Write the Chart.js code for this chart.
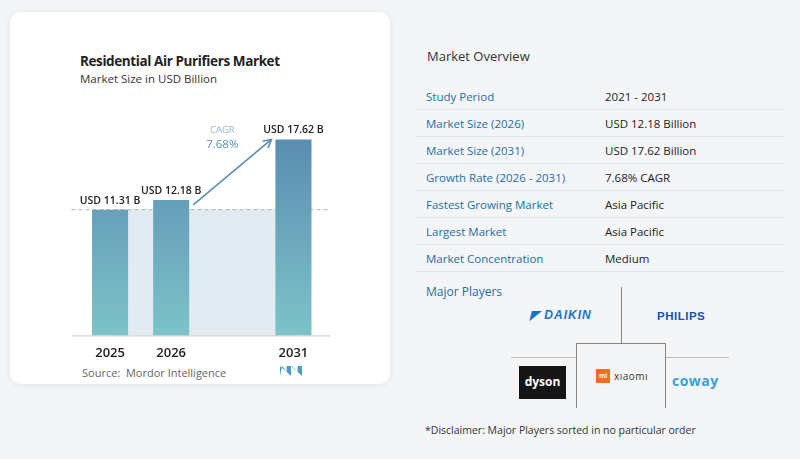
<!DOCTYPE html>
<html><head><meta charset="utf-8">
<script src="https://cdn.jsdelivr.net/npm/chart.js@4"></script>
<style>
body{margin:0;width:800px;height:459px;background:#f4f5f7;font-family:"Open Sans",sans-serif;position:relative;overflow:hidden}
.card{position:absolute;left:10px;top:12px;width:380px;height:372px;background:#fff;border-radius:10px;box-shadow:0 1px 6px rgba(0,0,0,.08)}
.t{position:absolute;left:80px;top:52px;font-size:13.5px;font-weight:700;color:#222;letter-spacing:-.4px}
.s{position:absolute;left:80px;top:71px;font-size:11.5px;color:#333}
.src{position:absolute;left:82px;top:365px;font-size:11px;color:#666}
#wrap{position:absolute;left:60px;top:113px;width:279px;height:250px}
.ov{position:absolute;left:427px;top:47px;font-size:13px;color:#333}
table{position:absolute;left:415px;top:83px;width:370px;border-collapse:collapse;font-size:11.5px}
td{height:26px;border-bottom:1px solid #e3e6ea;padding:0 0 0 11px}
td.k{color:#1e6ea6;width:168px}
td.v{color:#222}
.mp{position:absolute;left:426px;top:283px;font-size:12px;color:#1e6ea6}
.ln{position:absolute;background:#888}
.disc{position:absolute;left:425px;top:423px;font-size:10.5px;color:#333}
</style></head><body>
<div class="card"></div>
<div class="t">Residential Air Purifiers Market</div>
<div class="s">Market Size in USD Billion</div>
<div id="wrap"><canvas id="c"></canvas></div>
<div class="src">Source:&nbsp; Mordor Intelligence</div>
<div style="position:absolute;left:280px;top:366px;width:22px;height:10px;background:#4a9fc0;clip-path:polygon(0 100%,0 0,50% 100%,50% 0,100% 100%,100% 0,80% 0,80% 60%,55% 0,30% 0,30% 60%,10% 0)"></div>
<div class="ov">Market Overview</div>
<table>
<tr><td class="k">Study Period</td><td class="v">2021 - 2031</td></tr>
<tr><td class="k">Market Size (2026)</td><td class="v">USD 12.18 Billion</td></tr>
<tr><td class="k">Market Size (2031)</td><td class="v">USD 17.62 Billion</td></tr>
<tr><td class="k">Growth Rate (2026 - 2031)</td><td class="v">7.68% CAGR</td></tr>
<tr><td class="k">Fastest Growing Market</td><td class="v">Asia Pacific</td></tr>
<tr><td class="k">Largest Market</td><td class="v">Asia Pacific</td></tr>
<tr><td class="k">Market Concentration</td><td class="v">Medium</td></tr>
</table>
<div class="mp">Major Players</div>
<div class="ln" style="left:621px;top:287px;width:1px;height:56px"></div>
<div class="ln" style="left:576px;top:343px;width:90px;height:1px"></div>
<div class="ln" style="left:576px;top:343px;width:1px;height:65px"></div>
<div class="ln" style="left:665px;top:343px;width:1px;height:65px"></div>
<div class="ln" style="left:511px;top:357px;width:65px;height:1px;background:#bbb"></div>
<div class="ln" style="left:666px;top:357px;width:63px;height:1px;background:#bbb"></div>
<div style="position:absolute;left:530px;top:308px;font:italic 900 12px 'Liberation Sans';color:#1a73c9;letter-spacing:1px">◤ DAIKIN</div>
<div style="position:absolute;left:657px;top:310px;font:900 11.5px 'Liberation Sans';color:#1a4fb0;letter-spacing:.5px">PHILIPS</div>
<div style="position:absolute;left:519px;top:366px;width:47px;height:33px;background:#151515;color:#fff;font:700 12px 'Open Sans';text-align:center;line-height:32px">dyson</div>
<div style="position:absolute;left:596px;top:369px;width:14px;height:14px;background:#f26d21;color:#fff;font:700 7px sans-serif;text-align:center;line-height:14px">mi</div>
<div style="position:absolute;left:614px;top:369px;font:10px 'Open Sans';color:#333;letter-spacing:.5px">xıaomı</div>
<div style="position:absolute;left:672px;top:371px;font:700 14px 'Open Sans';color:#3aa0d8;letter-spacing:.5px">coway</div>
<div class="disc">*Disclaimer: Major Players sorted in no particular order</div>
<script>
const years = ['2025', '2026', '', '2031'];
const sizes = [11.31, 12.18, null, 17.62];
const valueLabels = ['USD 11.31 B', 'USD 12.18 B', '', 'USD 17.62 B'];
const cagrLabel = ['CAGR', '7.68%'];

const deco = {
  id: 'deco',
  beforeDatasetsDraw(ch) {
    const {ctx, scales: {x, y}} = ch;
    const meta = ch.getDatasetMeta(0).data;
    const base = y.getPixelForValue(sizes[0]);
    const y0 = y.getPixelForValue(0);
    ctx.save();
    ctx.fillStyle = '#e2eaf2';
    ctx.fillRect(meta[0].x, base, meta[3].x - meta[0].x, y0 - base);
    ctx.setLineDash([4, 3]);
    ctx.strokeStyle = '#aab4bd';
    ctx.beginPath(); ctx.moveTo(x.left - 8, base); ctx.lineTo(x.right + 6, base); ctx.stroke();
    ctx.setLineDash([]);
    ctx.strokeStyle = '#c8c8c8';
    ctx.beginPath(); ctx.moveTo(x.left - 8, y0 + .5); ctx.lineTo(x.right + 6, y0 + .5); ctx.stroke();
    ctx.restore();
  },
  afterDatasetsDraw(ch) {
    const {ctx, scales: {y}} = ch;
    const m = ch.getDatasetMeta(0).data;
    ctx.save();
    ctx.fillStyle = '#222';
    ctx.font = '600 10.5px "Open Sans"';
    ctx.textAlign = 'center';
    [0, 1, 3].forEach(i => ctx.fillText(valueLabels[i], m[i].x, y.getPixelForValue(sizes[i]) - 6));
    // CAGR arrow
    const x1 = m[1].x + m[1].width / 2 + 4, y1 = y.getPixelForValue(sizes[1]) + 5;
    const x2 = m[3].x - m[3].width / 2 - 4, y2 = y.getPixelForValue(sizes[3]);
    ctx.strokeStyle = '#5a8db5'; ctx.lineWidth = 1.6;
    ctx.beginPath(); ctx.moveTo(x1, y1); ctx.lineTo(x2, y2); ctx.stroke();
    const a = Math.atan2(y2 - y1, x2 - x1);
    ctx.beginPath();
    ctx.moveTo(x2 - 9 * Math.cos(a - .5), y2 - 9 * Math.sin(a - .5));
    ctx.lineTo(x2, y2);
    ctx.lineTo(x2 - 9 * Math.cos(a + .5), y2 - 9 * Math.sin(a + .5));
    ctx.stroke();
    ctx.textAlign = 'center';
    ctx.fillStyle = '#9ab3c8'; ctx.font = '9.5px "Open Sans"';
    ctx.fillText(cagrLabel[0], (x1 + x2) / 2 - 10, y2 - 6);
    ctx.fillStyle = '#5a8db5'; ctx.font = '11.5px "Open Sans"';
    ctx.fillText(cagrLabel[1], (x1 + x2) / 2 - 10, y2 + 9);
    ctx.restore();
  }
};

new Chart(document.getElementById('c'), {
  type: 'bar',
  data: {
    labels: years,
    datasets: [{
      data: sizes,
      backgroundColor: (c) => {
        const {ctx, chartArea} = c.chart;
        if (!chartArea) return '#6a9fc0';
        const g = ctx.createLinearGradient(0, chartArea.top, 0, chartArea.bottom);
        g.addColorStop(0, '#5686ad');
        g.addColorStop(1, '#7cc3c9');
        return g;
      },
      barPercentage: 0.59,
      categoryPercentage: 1
    }]
  },
  options: {
    responsive: true,
    maintainAspectRatio: false,
    animation: false,
    layout: {padding: {left: 19.5, right: 15, top: 0}},
    plugins: {legend: {display: false}, tooltip: {enabled: false}},
    scales: {
      x: {
        grid: {display: false}, border: {display: false},
        ticks: {color: '#222', font: {size: 13, family: 'Open Sans', weight: '600'}, padding: 2}
      },
      y: {display: false, min: 0, max: 20}
    }
  },
  plugins: [deco]
});
</script>
</body></html>
